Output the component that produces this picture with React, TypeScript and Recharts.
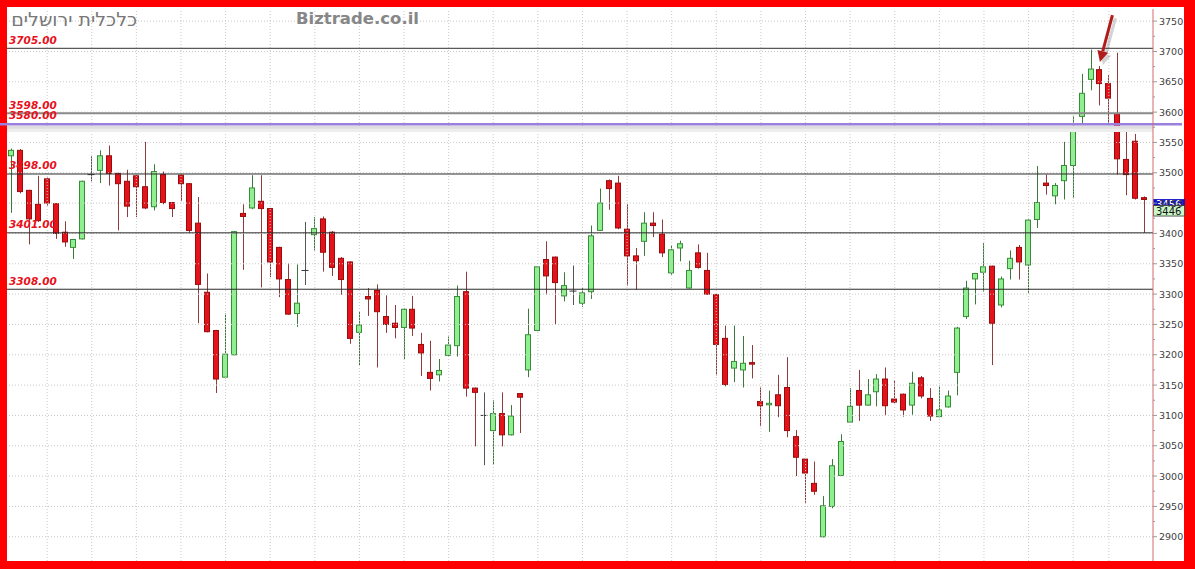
import React from 'react';
import { ComposedChart, Bar, XAxis, YAxis, ReferenceLine, ReferenceDot } from 'recharts';

// daily OHLC, oldest first
const opens = [
  3528, 3537, 3471, 3448, 3490, 3449, 3402, 3377, 3391, 3497,
  3504, 3528, 3499, 3486, 3495, 3477, 3444, 3497, 3451, 3496,
  3482, 3417, 3303, 3240, 3163, 3200, 3433, 3442, 3453, 3441,
  3377, 3324, 3268, 3339, 3398, 3424, 3402, 3359, 3353, 3237,
  3296, 3306, 3263, 3252, 3245, 3275, 3217, 3171, 3167, 3199,
  3215, 3304, 3145, 3100, 3075, 3103, 3068, 3136, 3175, 3240,
  3357, 3361, 3297, 3305, 3285, 3304, 3405, 3487, 3483, 3407,
  3363, 3387, 3417, 3399, 3335, 3376, 3310, 3368, 3339, 3299,
  3227, 3178, 3175, 3187, 3123, 3119, 3134, 3146, 3065, 3028,
  2988, 2900, 2950, 3001, 3089, 3141, 3117, 3139, 3160, 3127,
  3135, 3117, 3162, 3128, 3098, 3114, 3171, 3263, 3325, 3336,
  3346, 3282, 3342, 3377, 3348, 3423, 3483, 3462, 3487, 3512,
  3593, 3654, 3670, 3647, 3597, 3522, 3552, 3459,
];
const highs = [
  3540, 3539, 3472, 3495, 3492, 3450, 3420, 3390, 3487, 3527,
  3537, 3545, 3500, 3505, 3496, 3551, 3514, 3502, 3452, 3497,
  3483, 3460, 3334, 3241, 3268, 3404, 3448, 3496, 3496, 3442,
  3378, 3351, 3349, 3419, 3427, 3428, 3404, 3361, 3354, 3271,
  3310, 3316, 3298, 3282, 3277, 3297, 3236, 3223, 3193, 3230,
  3314, 3337, 3146, 3138, 3125, 3138, 3117, 3137, 3276, 3346,
  3387, 3362, 3336, 3347, 3310, 3413, 3474, 3489, 3495, 3448,
  3376, 3435, 3435, 3423, 3381, 3388, 3355, 3382, 3368, 3300,
  3248, 3248, 3231, 3216, 3146, 3141, 3167, 3196, 3076, 3030,
  3024, 2967, 3028, 3069, 3145, 3175, 3160, 3168, 3179, 3158,
  3136, 3172, 3165, 3145, 3149, 3141, 3246, 3322, 3335, 3384,
  3347, 3329, 3372, 3381, 3423, 3511, 3497, 3483, 3551, 3594,
  3663, 3703, 3676, 3661, 3698, 3571, 3564, 3461,
];
const lows = [
  3434, 3466, 3382, 3419, 3446, 3391, 3378, 3358, 3390, 3486,
  3483, 3479, 3405, 3427, 3427, 3440, 3438, 3448, 3427, 3453,
  3401, 3252, 3237, 3137, 3161, 3199, 3340, 3440, 3311, 3328,
  3295, 3266, 3246, 3315, 3372, 3337, 3330, 3299, 3218, 3183,
  3264, 3179, 3236, 3227, 3193, 3231, 3165, 3141, 3156, 3197,
  3197, 3131, 3049, 3018, 3019, 3049, 3067, 3071, 3163, 3239,
  3299, 3249, 3288, 3282, 3279, 3292, 3404, 3439, 3407, 3314,
  3307, 3363, 3394, 3361, 3332, 3354, 3309, 3342, 3299, 3166,
  3148, 3155, 3146, 3161, 3082, 3073, 3097, 3064, 3000, 2956,
  2969, 2899, 2947, 3000, 3088, 3091, 3116, 3115, 3100, 3120,
  3098, 3101, 3128, 3091, 3097, 3113, 3133, 3259, 3283, 3304,
  3183, 3278, 3324, 3324, 3302, 3409, 3464, 3448, 3456, 3458,
  3580, 3636, 3611, 3580, 3497, 3463, 3456, 3401,
];
const closes = [
  3537, 3469, 3424, 3421, 3450, 3400, 3386, 3390, 3486, 3497,
  3528, 3499, 3482, 3445, 3477, 3442, 3502, 3451, 3441, 3482,
  3405, 3316, 3238, 3160, 3201, 3403, 3428, 3475, 3441, 3353,
  3325, 3267, 3285, 3339, 3408, 3369, 3344, 3324, 3227, 3249,
  3292, 3271, 3250, 3245, 3275, 3244, 3203, 3161, 3174, 3216,
  3296, 3145, 3138, 3100, 3103, 3068, 3099, 3130, 3233, 3345,
  3330, 3319, 3314, 3305, 3302, 3396, 3450, 3474, 3409, 3363,
  3355, 3417, 3413, 3368, 3373, 3383, 3339, 3344, 3300, 3217,
  3151, 3189, 3186, 3185, 3116, 3120, 3116, 3075, 3031, 3005,
  2975, 2951, 3017, 3057, 3115, 3117, 3134, 3160, 3116, 3122,
  3109, 3153, 3132, 3099, 3109, 3132, 3244, 3310, 3334, 3345,
  3252, 3325, 3359, 3353, 3422, 3451, 3479, 3479, 3512, 3575,
  3631, 3671, 3647, 3623, 3523, 3497, 3458, 3456,
];

const priceTicks = [
  3750, 3700, 3650, 3600, 3550, 3500, 3450, 3400, 3350,
  3300, 3250, 3200, 3150, 3100, 3050, 3000, 2950, 2900,
];
// first session of each week
const weekStarts = [
  4, 9, 14, 19, 24, 29, 34, 39, 44, 49, 54, 59, 64, 69,
  74, 79, 84, 89, 94, 99, 104, 109, 114, 119, 123,
];
const levels = [3705, 3598, 3498, 3401, 3308];
const trendLevel = 3580;
const lastPrice = 3456;
const quotePrice = 3446;
const markedSession = 122;

const data = opens.map((o, i) => ({
  i,
  range: [lows[i], highs[i]],
  o,
  h: highs[i],
  l: lows[i],
  c: closes[i],
}));

const RED = '#e3121b';
const RED_EDGE = '#9a0c0c';
const RED_WICK = '#8e3b3b';
const GREEN = '#8ff08f';
const GREEN_EDGE = '#3a8c3a';
const GREEN_WICK = '#3c7a3c';
const FONT = 'DejaVu Sans, Verdana, sans-serif';

const Candle = (props: any) => {
  const { x, y, width, height, payload } = props;
  const { o, h, l, c } = payload;
  const top = Math.min(y, y + height);
  const span = Math.abs(height);
  const k = span / (h - l || 1);
  const yOf = (v: number) => top + (h - v) * k;
  const cx = Math.round(x + width / 2) + 0.5;
  const left = Math.round(x) + 0.5;
  const flat = o === c;
  const up = c > o;
  const wick = flat ? '#555' : up ? GREEN_WICK : RED_WICK;
  const bodyTop = yOf(Math.max(o, c));
  const bodyBottom = yOf(Math.min(o, c));
  return (
    <g>
      <line x1={cx} x2={cx} y1={top} y2={top + span} stroke={wick} strokeWidth={1} />
      {flat ? (
        <line x1={left - 1} x2={left + width} y1={bodyTop} y2={bodyTop} stroke="#333" strokeWidth={1} />
      ) : (
        <rect
          x={left}
          y={bodyTop}
          width={width - 1}
          height={Math.max(bodyBottom - bodyTop, 1.5)}
          fill={up ? GREEN : RED}
          stroke={up ? GREEN_EDGE : RED_EDGE}
          strokeWidth={1}
        />
      )}
    </g>
  );
};

const PriceTick = (props: any) => {
  const { x, y, payload } = props;
  return (
    <g>
      <line x1={x} x2={x + 4} y1={y} y2={y} stroke="#999" />
      <text x={x + 6} y={y + 3.5} fontSize={9.5} fontFamily={FONT} fill="#404040">
        {payload.value}
      </text>
    </g>
  );
};

const levelText = (x: number, y: number, text: string) => (
  <text x={x + 2} y={y - 4.5} fontSize={10.5} fontWeight="bold" fontStyle="italic" fontFamily={FONT} fill="#e8101a">
    {text}
  </text>
);

const levelLabel = (text: string) => (props: any) => levelText(props.viewBox.x, props.viewBox.y, text);

// the purple trend line runs from the frame edge into the price scale
const trendLabel = (text: string) => (props: any) => {
  const { viewBox } = props;
  const right = viewBox.x + viewBox.width + 29;
  return (
    <g>
      <line x1={0} x2={right} y1={viewBox.y} y2={viewBox.y} stroke="#9a7fdc" strokeWidth={2.5} />
      {levelText(viewBox.x, viewBox.y - 0.5, text)}
    </g>
  );
};

const priceBox = (value: number, fill: string, color: string, edge: string) => (props: any) => {
  const { viewBox } = props;
  const left = viewBox.x + viewBox.width;
  return (
    <g>
      <rect x={left + 0.5} y={viewBox.y} width={31} height={10.5} fill={fill} stroke={edge} strokeWidth={0.8} />
      <text x={left + 3} y={viewBox.y + 9} fontSize={10} fontFamily={FONT} fill={color}>
        {value}
      </text>
    </g>
  );
};

const ArrowMark = (props: any) => {
  const { cx, cy } = props;
  const tipX = cx;
  const tipY = cy - 4;
  const tailX = cx + 12.5;
  const tailY = cy - 51;
  const ang = Math.atan2(tipY - tailY, tipX - tailX);
  const back = 11;
  const half = 5.5;
  const bx = tipX - back * Math.cos(ang);
  const by = tipY - back * Math.sin(ang);
  const px = -Math.sin(ang) * half;
  const py = Math.cos(ang) * half;
  const head = `M${tipX},${tipY} L${bx + px},${by + py} L${bx - px},${by - py} Z`;
  return (
    <g>
      <g transform="translate(3,3)" opacity={0.25}>
        <line x1={tailX} y1={tailY} x2={bx} y2={by} stroke="#555" strokeWidth={3} />
        <path d={head} fill="#555" />
      </g>
      <line x1={tailX} y1={tailY} x2={bx} y2={by} stroke="#b01c1c" strokeWidth={3} />
      <path d={head} fill="#b01c1c" />
    </g>
  );
};

export default function App() {
  const minorTicks = priceTicks.slice(1).map((t) => t + 25);
  return (
    <div style={{ position: 'absolute', left: 0, top: 0, width: 1195, height: 569, background: '#ff0000', overflow: 'hidden' }}>
      <div style={{ position: 'absolute', left: 7, top: 7, width: 1177, height: 554, background: '#fff' }} />
      <div
        style={{
          position: 'absolute',
          left: 0,
          top: 8,
          width: 137,
          textAlign: 'right',
          direction: 'rtl',
          fontFamily: 'DejaVu Sans, sans-serif',
          fontSize: 19,
          lineHeight: '22px',
          color: '#787878',
          zIndex: 2,
        }}
      >
        כלכלית ירושלים
      </div>
      <div
        style={{
          position: 'absolute',
          left: 296,
          top: 9,
          fontFamily: 'DejaVu Sans, sans-serif',
          fontSize: 16.5,
          fontWeight: 'bold',
          lineHeight: '20px',
          color: '#878787',
          zIndex: 2,
        }}
      >
        Biztrade.co.il
      </div>
      <ComposedChart
        width={1195}
        height={569}
        data={data}
        margin={{ top: 9, right: 11, bottom: 8, left: 7 }}
        style={{ position: 'absolute', left: 0, top: 0 }}
      >
        <XAxis dataKey="i" type="category" hide padding={{ left: 0, right: 4 }} />
        <YAxis
          orientation="right"
          width={31}
          domain={[2860, 3770]}
          allowDataOverflow
          ticks={[...priceTicks, ...minorTicks]}
          interval={0}
          tickLine={false}
          tickSize={0}
          tickMargin={0}
          axisLine={{ stroke: '#d46a6a' }}
          tick={(p: any) =>
            p.payload.value % 50 === 0 ? (
              <PriceTick {...p} />
            ) : (
              <line x1={p.x} x2={p.x + 2} y1={p.y} y2={p.y} stroke="#999" />
            )
          }
        />
        {priceTicks.map((t) => (
          <ReferenceLine key={`h${t}`} y={t} stroke="#c9c9c9" strokeDasharray="1 2" />
        ))}
        {weekStarts.map((s) => (
          <ReferenceLine key={`v${s}`} x={s} stroke="#c9c9c9" strokeDasharray="1 2" />
        ))}
        <ReferenceLine y={trendLevel - 8} stroke="#ededed" strokeWidth={6} />
        <ReferenceLine y={trendLevel - 5} stroke="#dedede" strokeWidth={3} />
        {levels.map((lv) => (
          <ReferenceLine
            key={`l${lv}`}
            y={lv}
            stroke={lv === 3598 ? '#8a8a8a' : lv === 3705 ? '#5a5a5a' : '#2a2a2a'}
            strokeWidth={lv === 3598 ? 2 : lv === 3705 ? 1.3 : 1}
            label={levelLabel(lv.toFixed(2))}
          />
        ))}
        <ReferenceLine y={trendLevel} stroke="none" label={trendLabel(trendLevel.toFixed(2))} />
        <Bar dataKey="range" barSize={6} shape={<Candle />} isAnimationActive={false} />
        <ReferenceLine y={lastPrice} stroke="none" label={priceBox(lastPrice, '#1010c8', '#ffffff', '#1010c8')} />
        <ReferenceLine y={quotePrice} stroke="none" label={priceBox(quotePrice, '#c9f7c9', '#111', '#333')} />
        <ReferenceDot
          x={markedSession}
          y={highs[markedSession]}
          ifOverflow="visible"
          shape={<ArrowMark />}
        />
      </ComposedChart>
    </div>
  );
}
